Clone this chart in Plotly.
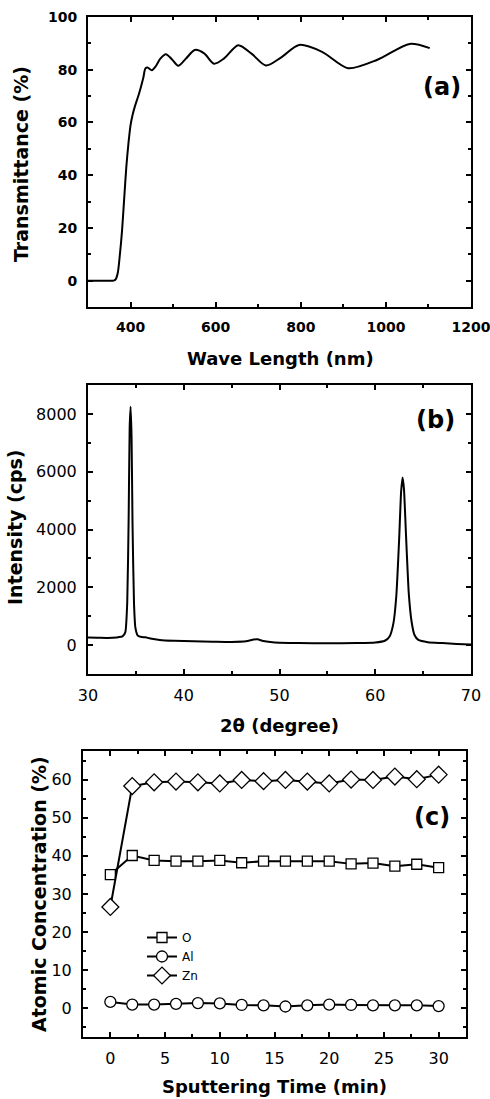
import plotly.graph_objects as go

# ---------------- data ----------------
# (a) optical transmittance
wavelength = [300, 340, 360, 365, 370, 375, 380, 385, 390, 395, 400, 405, 410, 420, 430, 435, 440,
              450, 460, 470, 483, 497, 512, 530, 551, 573, 596, 620, 653, 685, 718, 755, 796,
              850, 911, 980, 1056, 1103]
transmittance = [0, 0, 0, 0.5, 3, 10, 19, 31, 43, 52, 59, 63, 66, 71, 77, 80.5, 80.8,
                 79.8, 81.5, 84.2, 85.9, 84.0, 81.5, 84.2, 87.5, 86.2, 82.3, 84.3, 89.3, 86.0, 81.6, 84.8, 89.4,
                 86.8, 80.6, 83.8, 89.8, 88.2]

# (b) XRD pattern
two_theta = [30.0, 31.0, 32.0, 33.0, 33.6, 33.9, 34.1, 34.25, 34.35, 34.45, 34.55, 34.65, 34.8,
             34.95, 35.2, 35.6, 36.0, 36.5, 37.5, 39.0, 41.0, 43.0, 45.0, 46.5, 47.3, 47.7, 48.3,
             49.5, 52.0, 55.0, 58.0, 60.0, 61.0, 61.5, 61.9, 62.2, 62.5, 62.7, 62.85, 63.0, 63.2,
             63.5, 63.8, 64.1, 64.5, 65.5, 67.0, 68.5, 70.0]
intensity = [260, 255, 250, 265, 300, 450, 1500, 4500, 7500, 8250, 7200, 4200, 1500,
             600, 330, 280, 270, 230, 180, 150, 130, 120, 110, 130, 190, 200, 140,
             90, 70, 60, 70, 90, 150, 300, 760, 1700, 3700, 5300, 5800, 5400, 3900,
             1800, 800, 350, 180, 100, 70, 40, 20]

# (c) depth profile
sputter_time = [0, 2, 4, 6, 8, 10, 12, 14, 16, 18, 20, 22, 24, 26, 28, 30]
conc_O = [35.1, 40.1, 38.8, 38.6, 38.6, 38.8, 38.2, 38.6, 38.6, 38.6, 38.6, 37.9, 38.1, 37.3, 37.8, 36.9]
conc_Al = [1.7, 1.0, 1.0, 1.2, 1.4, 1.3, 0.9, 0.8, 0.5, 0.8, 1.0, 0.9, 0.8, 0.8, 0.8, 0.6]
conc_Zn = [26.6, 58.3, 59.3, 59.5, 59.3, 59.0, 59.9, 59.6, 59.9, 59.5, 59.0, 60.0, 59.9, 60.8, 60.1, 61.3]
series_names = ["O", "Al", "Zn"]

# ---------------- layout helpers ----------------
W, H = 490, 1099
def dx(l, r):
    return [l / W, r / W]
def dy(t, b):
    return [1 - b / H, 1 - t / H]

FONT = "DejaVu Sans, Liberation Sans, Arial, sans-serif"
BLACK = "#000000"

fig = go.Figure()

fig.add_trace(go.Scatter(x=wavelength, y=transmittance, mode="lines",
                         line=dict(color=BLACK, width=2, shape="spline", smoothing=0.8),
                         xaxis="x", yaxis="y", showlegend=False))
fig.add_trace(go.Scatter(x=two_theta, y=intensity, mode="lines",
                         line=dict(color=BLACK, width=2, shape="spline", smoothing=0.5),
                         xaxis="x2", yaxis="y2", showlegend=False))

marker_specs = {"O": ("square", 10), "Al": ("circle", 11), "Zn": ("diamond", 13)}
for name, vals in zip(series_names, [conc_O, conc_Al, conc_Zn]):
    sym, size = marker_specs[name]
    fig.add_trace(go.Scatter(x=sputter_time, y=vals, mode="lines+markers", name=name,
                             line=dict(color=BLACK, width=2),
                             marker=dict(symbol=sym, size=size, color="white",
                                         line=dict(color=BLACK, width=1.3)),
                             xaxis="x3", yaxis="y3"))

def axis(domain, rng, dtick, minor_dtick, tickfont, anchor, tick0=0):
    return dict(domain=domain, range=rng, dtick=dtick, tick0=tick0, anchor=anchor,
                automargin=False, ticklabeloverflow="allow",
                showline=True, linecolor=BLACK, linewidth=2, mirror="ticks",
                ticks="inside", ticklen=5, tickwidth=1.5, tickcolor=BLACK,
                minor=dict(ticks="inside", dtick=minor_dtick, tick0=tick0, ticklen=3,
                           tickwidth=1.5, tickcolor=BLACK),
                showgrid=False, zeroline=False, tickfont=tickfont,
                ticklabelstandoff=6)

font_a = dict(family=FONT, size=14, color=BLACK, weight="bold")
font_bc = dict(family=FONT, size=16, color=BLACK)

layout = dict(
    template="none",
    width=W, height=H, autosize=False, margin=dict(l=0, r=0, t=0, b=0, pad=0),
    paper_bgcolor="white", plot_bgcolor="white",
    xaxis=axis(dx(88, 471), [300, 1200], 200, 100, font_a, "y"),
    yaxis=axis(dy(17, 307), [-10, 100], 20, 10, font_a, "x"),
    xaxis2=axis(dx(88, 471), [30, 70], 10, 5, font_bc, "y2"),
    yaxis2=axis(dy(385, 674), [-1000, 9000], 2000, 1000, font_bc, "x2"),
    xaxis3=axis(dx(83, 466), [-2.5, 32.5], 5, 2.5, font_bc, "y3"),
    yaxis3=axis(dy(751, 1037), [-7.5, 67.5], 10, 5, font_bc, "x3"),
    legend=dict(x=142 / W, y=1 - 923 / H, xanchor="left", yanchor="top",
                bgcolor="rgba(0,0,0,0)", borderwidth=0,
                font=dict(family=FONT, size=12, color=BLACK),
                tracegroupgap=0, itemwidth=30),
)
fig.update_layout(**layout)

def ann(text, x, y, size, angle=0, bold=True):
    fig.add_annotation(text=text, x=x / W, y=1 - y / H, xref="paper", yref="paper",
                       xanchor="center", yanchor="middle", showarrow=False, textangle=angle,
                       font=dict(family=FONT, size=size, color=BLACK,
                                 weight="bold" if bold else "normal"))

ann("Transmittance (%)", 21, 164, 19, -90)
ann("Wave Length (nm)", 280, 358, 18)
ann("(a)", 442, 87, 24)
ann("Intensity (cps)", 15, 527, 19, -90)
ann("2θ (degree)", 279, 725, 18)
ann("(b)", 435, 420, 24)
ann("Atomic Concentration (%)", 39, 894, 19, -90)
ann("Sputtering Time (min)", 274, 1086, 18)
ann("(c)", 432, 817, 24)

fig.write_html("out.html", config={"displayModeBar": False},
               post_script="document.body.style.margin='0';document.body.style.overflow='hidden';")
